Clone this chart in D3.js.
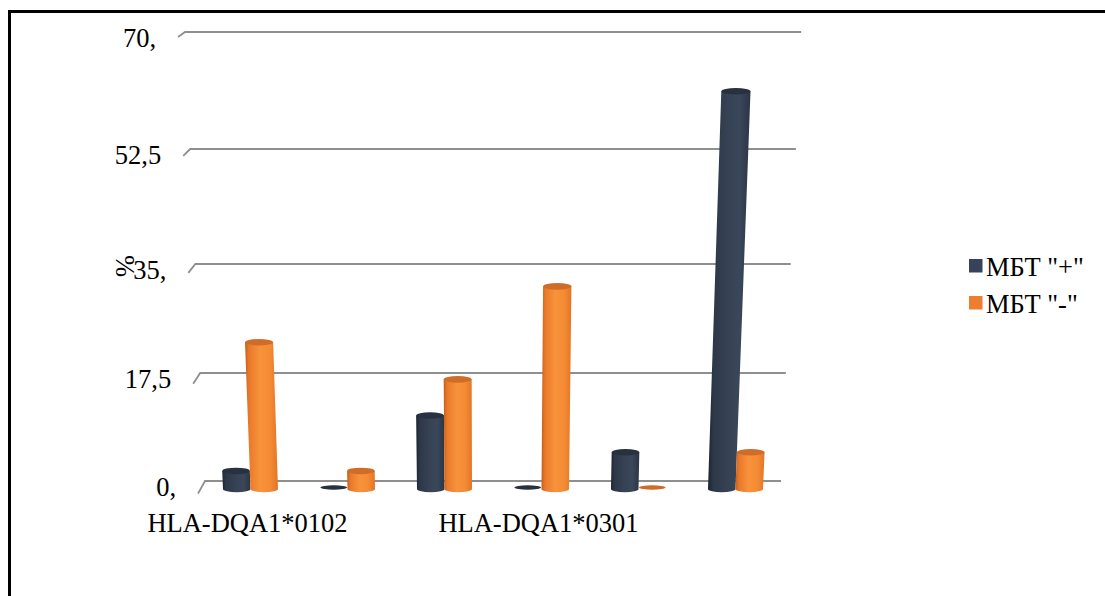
<!DOCTYPE html>
<html>
<head>
<meta charset="utf-8">
<script src="https://cdn.jsdelivr.net/npm/d3@7"></script>
<style>
  html, body { margin: 0; padding: 0; background: #fff; }
  svg text { font-family: "Liberation Serif", "Times New Roman", Times, "DejaVu Serif", serif; }
</style>
</head>
<body>
<svg id="chart" width="1105" height="596"></svg>
<script>
// Category labels (only every third category carries a visible label)
const categoryLabels = ["HLA-DQA1*0102", "", "", "HLA-DQA1*0301", "", ""];
const seriesNames = ['МБТ "+"', 'МБТ "-"'];
const positiveValues = [2.9, 0, 11.8, 0, 5.9, 61.8];   // МБТ "+"
const negativeValues = [23.5, 2.9, 17.6, 32.4, 0, 5.9]; // МБТ "-"
const tickValues = [0, 17.5, 35, 52.5, 70];
const tickLabels = ["0,", "17,5", "35,", "52,5", "70,"];
const axisTitle = "%";

const FONT = '"Liberation Serif", "Times New Roman", Times, "DejaVu Serif", serif';
const FS = 26.5;

const seriesValues = [positiveValues, negativeValues];
const seriesColors = [
  { body: ["#1c2430", "#2c3748", "#364254", "#3a475a", "#2a3545"], top: "#28313f", legend: "#36435a" },
  { body: ["#c45f1a", "#e9792a", "#f8923b", "#f58c35", "#e27526"], top: "#cf6d28", legend: "#ee7d31" }
];

const svg = d3.select("#chart");

// Frame around the chart area
svg.append("rect")
  .attr("x", 9.5).attr("y", 11.5)
  .attr("width", 1300).attr("height", 800)
  .attr("fill", "none").attr("stroke", "#000").attr("stroke-width", 3);

// Value scales: back wall (gridlines) and the bar plane in front of it
const yWall = d3.scaleLinear().domain(tickValues).range([481, 373, 264, 149, 32]);
const yBar = d3.scaleLinear().domain(tickValues).range([489, 380, 270, 154, 36]);
const x = d3.scaleBand().domain(d3.range(categoryLabels.length)).range([202, 784]);
const xs = d3.scaleBand().domain([0, 1]).range([-27.5, 27.5]);

// Slight perspective: things spread outward from a centre line as they rise
const XC = 492, K = 1.55e-4;
const persp = (px, py, base) => XC + (px - XC) * (1 + K * (base - py));

// Gridlines with their short receding stub on the left
const floorLeft = 205, floorRight = 781, wallBase = yWall(0);
const grid = svg.append("g").attr("class", "grid");
tickValues.forEach((v, i) => {
  const y = yWall(v);
  const xl = persp(floorLeft, y, wallBase);
  const xr = persp(floorRight, y, wallBase);
  const dy = 12.6 - (wallBase - y) / (wallBase - yWall(70)) * 7.6;
  const dx = 7;
  grid.append("path")
    .attr("d", `M${xl - dx},${y + dy}L${xl},${y}L${xr},${y}`)
    .attr("fill", "none").attr("stroke", "#8f8f8f").attr("stroke-width", 1.8);
  grid.append("text")
    .attr("x", xl - dx - 22).attr("y", y + 15)
    .attr("text-anchor", "end")
    .attr("font-family", FONT)
    .attr("font-size", FS).attr("fill", "#000")
    .text(tickLabels[i]);
});

// Axis title
svg.append("text")
  .attr("transform", "translate(125,266) rotate(90)")
  .attr("text-anchor", "middle").attr("dominant-baseline", "central")
  .attr("font-family", FONT)
  .attr("font-size", FS).attr("fill", "#000")
  .text(axisTitle);

// Gradients for cylinder bodies
const defs = svg.append("defs");
seriesColors.forEach((c, s) => {
  const g = defs.append("linearGradient").attr("id", "cyl" + s)
    .attr("x1", "0%").attr("x2", "100%").attr("y1", "0%").attr("y2", "0%");
  [0, 0.12, 0.45, 0.75, 1].forEach((o, j) => g.append("stop").attr("offset", o).attr("stop-color", c.body[j]));
});

// Cylinders
const ry = 3.3;
const bars = svg.append("g").attr("class", "bars");
categoryLabels.forEach((_, i) => {
  seriesValues.forEach((vals, s) => {
    const v = vals[i];
    const w = xs.bandwidth();
    const xb = x(i) + x.bandwidth() / 2 + xs(s);
    const yb = yBar(0);
    if (v === 0) {
      bars.append("ellipse")
        .attr("cx", xb + w / 2).attr("cy", yb - 1.5)
        .attr("rx", w / 2 - 0.5).attr("ry", 2.2)
        .attr("fill", seriesColors[s].top);
      return;
    }
    const yt = yBar(v);
    const xlt = persp(xb, yt, yb), xrt = persp(xb + w, yt, yb);
    bars.append("path")
      .attr("d", `M${xb},${yb}L${xlt},${yt}L${xrt},${yt}L${xb + w},${yb}A${w / 2},${ry} 0 0 1 ${xb},${yb}Z`)
      .attr("fill", `url(#cyl${s})`);
    bars.append("ellipse")
      .attr("cx", (xlt + xrt) / 2).attr("cy", yt)
      .attr("rx", (xrt - xlt) / 2).attr("ry", ry)
      .attr("fill", seriesColors[s].top);
  });
});

// Category labels
svg.append("g").attr("class", "x-labels")
  .selectAll("text")
  .data(categoryLabels.map((t, i) => ({ t, i })).filter(d => d.t))
  .join("text")
  .attr("x", d => x(d.i) + x.bandwidth() / 2 - 3)
  .attr("y", 532)
  .attr("text-anchor", "middle")
  .attr("font-family", FONT)
  .attr("font-size", FS).attr("fill", "#000")
  .text(d => d.t);

// Legend
const legend = svg.append("g").attr("class", "legend");
seriesNames.forEach((name, s) => {
  const y0 = 259 + s * 37;
  legend.append("rect")
    .attr("x", 969).attr("y", y0).attr("width", 13.5).attr("height", 13.5)
    .attr("fill", seriesColors[s].legend);
  legend.append("text")
    .attr("x", 986).attr("y", y0 + 16.5)
    .attr("font-family", FONT)
    .attr("font-size", FS).attr("fill", "#000")
    .text(name);
});
</script>
</body>
</html>
